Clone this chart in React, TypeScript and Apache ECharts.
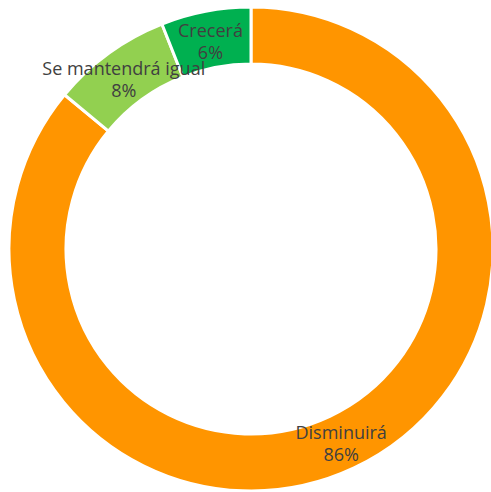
import React, { useEffect, useRef } from "react";
import * as echarts from "echarts";

const categories = ["Disminuirá", "Se mantendrá igual", "Crecerá"];
const values = [86, 8, 6];
const colors = ["#FF9500", "#92D050", "#00B050"];

export default function App() {
  const ref = useRef<HTMLDivElement>(null);
  useEffect(() => {
    if (!ref.current) return;
    const chart = echarts.init(ref.current, undefined, { renderer: "svg" });
    chart.setOption({
      animation: false,
      backgroundColor: "#ffffff",
      series: [
        {
          type: "pie",
          center: [251, 249],
          radius: [185, 242],
          startAngle: 90,
          clockwise: true,
          avoidLabelOverlap: false,
          minShowLabelAngle: 0,
          itemStyle: { borderColor: "#ffffff", borderWidth: 3 },
          label: {
            show: true,
            position: "inside",
            formatter: "{b}\n{d}%",
            color: "#404040",
            fontFamily: "Open Sans",
            fontSize: 18,
            lineHeight: 22,
            overflow: "none",
          },
          labelLayout: { hideOverlap: false },
          labelLine: { show: false },
          data: categories.map((c, i) => ({
            name: c,
            value: values[i],
            itemStyle: { color: colors[i] },
            label: { offset: i === 0 ? [-2, -2] : [0, 5] },
          })),
        },
      ],
    });
    return () => chart.dispose();
  }, []);
  return (
    <div
      ref={ref}
      style={{ position: "fixed", left: 0, top: 0, width: 491, height: 492 }}
    />
  );
}
